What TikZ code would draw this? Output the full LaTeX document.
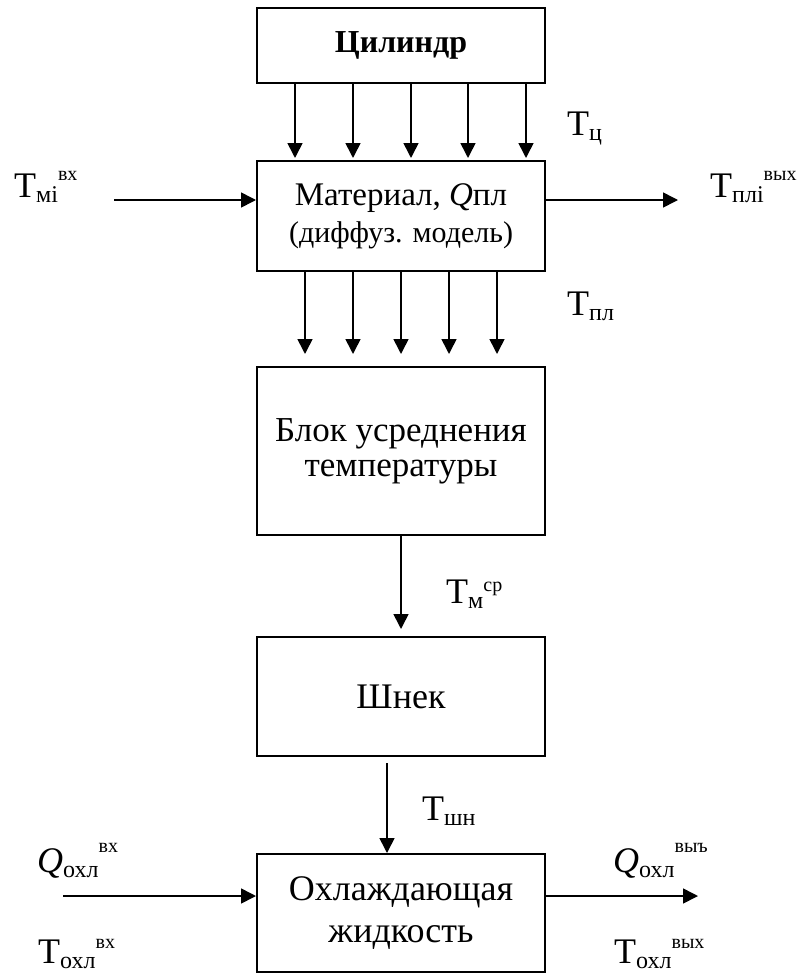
\documentclass[tikz,border=0pt]{standalone}
\usepackage{fontspec}
\setmainfont{Liberation Serif}
\usetikzlibrary{arrows.meta}
\newcommand\lab[4][16pt]{#2\raisebox{-5pt}{\fontsize{24}{24}\selectfont #3}\raisebox{#1}{\fontsize{20}{20}\selectfont #4}}
\begin{document}
\begin{tikzpicture}[x=1pt,y=-1pt,
  box/.style={draw, line width=2pt, minimum width=288pt, inner sep=0pt, align=center, font=\fontsize{36}{37}\selectfont},
  flow/.style={line width=1.6pt, -{Triangle[length=15pt,width=15pt]}},
  lbl/.style={anchor=base west, inner sep=0pt, font=\fontsize{36}{36}\selectfont}]
\useasboundingbox (0,0) rectangle (803,974);
% boxes
\node[box, minimum height=75pt, font=\fontsize{32}{36}\selectfont\bfseries] (cyl) at (401,45.5) {Цилиндр};
\node[box, minimum height=110pt, font=\fontsize{33}{37}\selectfont] (mat) at (401,216) {Материал, \textit{Q}пл\\{\fontsize{30}{37}\selectfont(диффуз. модель)}};
\node[box, minimum height=168pt, font=\fontsize{35}{35}\selectfont] (blk) at (401,451) {Блок усреднения\\температуры};
\node[box, minimum height=119pt] (shn) at (401,696.5) {Шнек};
\node[box, minimum height=118pt, font=\fontsize{36}{42}\selectfont] (ohl) at (401,913) {Охлаждающая\\жидкость};
% cylinder -> material
\foreach \x in {295,353,411,468,526}
  \draw[flow, shorten >=2pt] (cyl.south -| \x,0) -- (mat.north -| \x,0);
% material -> block
\foreach \x in {305,353,401,449,497}
  \draw[flow, shorten >=12pt] (mat.south -| \x,0) -- (blk.north -| \x,0);
% block -> screw
\draw[flow, shorten >=7pt] (blk.south -| 401,0) -- (shn.north -| 401,0);
% screw -> coolant
\draw[flow, shorten <=6pt] (shn.south -| 387,0) -- (ohl.north -| 387,0);
% side flows
\coordinate (in1) at (114,200);
\coordinate (out1) at (678,200);
\coordinate (in2) at (63,896);
\coordinate (out2) at (698,896);
\draw[flow] (in1) -- (mat.west |- in1);
\draw[flow] (mat.east |- out1) -- (out1);
\draw[flow] (in2) -- (ohl.west |- in2);
\draw[flow] (ohl.east |- out2) -- (out2);
% labels
\node[lbl] (lmi) at (14,197) {\lab[17pt]{Т}{мi}{вх}};
\node[lbl] (lpli) at (710,197) {\lab[17pt]{Т}{плi}{вых}};
\node[lbl] (lc) at (567,135) {\lab{Т}{ц}{}};
\node[lbl] (lpl) at (567,315) {\lab{Т}{пл}{}};
\node[lbl] (lm) at (446,603) {\lab[12pt]{Т}{м}{ср}};
\node[lbl] (lsh) at (422,820) {\lab{Т}{шн}{}};
\node[lbl] (lqin) at (37,872) {\lab[20pt]{\textit{Q}}{охл}{вх}};
\node[lbl] (ltin) at (38,963) {\lab[15pt]{Т}{охл}{вх}};
\node[lbl] (lqout) at (613,872) {\lab[20pt]{\textit{Q}}{охл}{выъ}};
\node[lbl] (ltout) at (614,963) {\lab[15pt]{Т}{охл}{вых}};
\end{tikzpicture}
\end{document}
